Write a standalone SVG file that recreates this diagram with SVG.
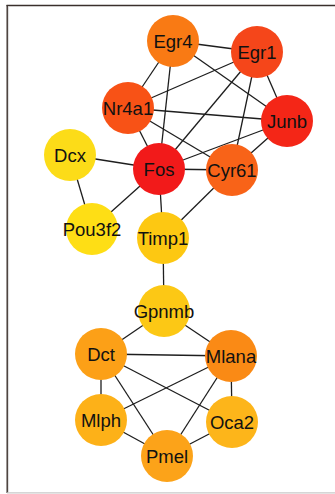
<svg xmlns="http://www.w3.org/2000/svg" width="335" height="494" viewBox="0 0 335 494">
  <style>
    .edge { stroke: #1e1e1e; stroke-width: 1.3; fill: none; }
    .node text { font-family: "Liberation Sans", Arial, sans-serif; font-size: 18.5px; fill: #111; text-anchor: middle; }
  </style>
  <rect width="335" height="494" fill="#ffffff"/>
  <!-- frame -->
  <g id="frame">
    <line x1="6.5" y1="5.6" x2="335" y2="5.6" stroke="#3a302c" stroke-width="1.5"/>
    <line x1="7.2" y1="5" x2="7.2" y2="493" stroke="#3a302c" stroke-width="1.4"/>
    <line x1="8.6" y1="7" x2="8.6" y2="493" stroke="#cfcfcf" stroke-width="0.8"/>
    <line x1="7" y1="492.8" x2="335" y2="492.8" stroke="#c8c8c8" stroke-width="1.2"/>
  </g>
  <!-- connectors -->
  <g id="connectors" class="edge">
    <line x1="173" y1="41" x2="257" y2="52"/>
    <line x1="173" y1="41" x2="128" y2="108"/>
    <line x1="173" y1="41" x2="159" y2="169"/>
    <line x1="173" y1="41" x2="287" y2="121"/>
    <line x1="257" y1="52" x2="128" y2="108"/>
    <line x1="257" y1="52" x2="287" y2="121"/>
    <line x1="257" y1="52" x2="159" y2="169"/>
    <line x1="257" y1="52" x2="232" y2="170"/>
    <line x1="128" y1="108" x2="287" y2="121"/>
    <line x1="128" y1="108" x2="159" y2="169"/>
    <line x1="128" y1="108" x2="232" y2="170"/>
    <line x1="287" y1="121" x2="159" y2="169"/>
    <line x1="287" y1="121" x2="232" y2="170"/>
    <line x1="159" y1="169" x2="232" y2="170"/>
    <line x1="159" y1="169" x2="70" y2="155"/>
    <line x1="159" y1="169" x2="92" y2="229"/>
    <line x1="159" y1="169" x2="163" y2="238"/>
    <line x1="70" y1="155" x2="92" y2="229"/>
    <line x1="232" y1="170" x2="163" y2="238"/>
    <line x1="163" y1="238" x2="164" y2="311"/>
    <line x1="164" y1="311" x2="101" y2="354"/>
    <line x1="164" y1="311" x2="231" y2="356"/>
    <line x1="101" y1="354" x2="231" y2="356"/>
    <line x1="101" y1="354" x2="101" y2="420"/>
    <line x1="101" y1="354" x2="167" y2="456"/>
    <line x1="101" y1="354" x2="232" y2="422"/>
    <line x1="231" y1="356" x2="101" y2="420"/>
    <line x1="231" y1="356" x2="167" y2="456"/>
    <line x1="231" y1="356" x2="232" y2="422"/>
    <line x1="101" y1="420" x2="167" y2="456"/>
    <line x1="167" y1="456" x2="232" y2="422"/>
  </g>
  <!-- genes -->
  <g id="Egr4" class="node"><circle cx="173" cy="41" r="26" fill="#f97a14"/><text x="173" y="47.5">Egr4</text></g>
  <g id="Egr1" class="node"><circle cx="257" cy="52" r="26" fill="#f5461a"/><text x="257" y="58.5">Egr1</text></g>
  <g id="Nr4a1" class="node"><circle cx="128" cy="108" r="26" fill="#f85216"/><text x="128" y="114.5">Nr4a1</text></g>
  <g id="Junb" class="node"><circle cx="287" cy="121" r="26" fill="#f42617"/><text x="287" y="127.5">Junb</text></g>
  <g id="Dcx" class="node"><circle cx="70" cy="155" r="26" fill="#fcdc18"/><text x="70" y="161.5">Dcx</text></g>
  <g id="Fos" class="node"><circle cx="159" cy="169" r="26" fill="#f21a1a"/><text x="159" y="175.5">Fos</text></g>
  <g id="Cyr61" class="node"><circle cx="232" cy="170" r="26" fill="#f86318"/><text x="232" y="176.5">Cyr61</text></g>
  <g id="Pou3f2" class="node"><circle cx="92" cy="229" r="26" fill="#fede15"/><text x="92" y="235.5">Pou3f2</text></g>
  <g id="Timp1" class="node"><circle cx="163" cy="238" r="26" fill="#fdc812"/><text x="163" y="244.5">Timp1</text></g>
  <g id="Gpnmb" class="node"><circle cx="164" cy="311" r="26" fill="#fcc815"/><text x="164" y="317.5">Gpnmb</text></g>
  <g id="Dct" class="node"><circle cx="101" cy="354" r="26" fill="#fca017"/><text x="101" y="360.5">Dct</text></g>
  <g id="Mlana" class="node"><circle cx="231" cy="356" r="26" fill="#fa8a15"/><text x="231" y="362.5">Mlana</text></g>
  <g id="Mlph" class="node"><circle cx="101" cy="420" r="26" fill="#fdb118"/><text x="101" y="426.5">Mlph</text></g>
  <g id="Oca2" class="node"><circle cx="232" cy="422" r="26" fill="#fdb51a"/><text x="232" y="428.5">Oca2</text></g>
  <g id="Pmel" class="node"><circle cx="167" cy="456" r="26" fill="#fca319"/><text x="167" y="462.5">Pmel</text></g>
</svg>
